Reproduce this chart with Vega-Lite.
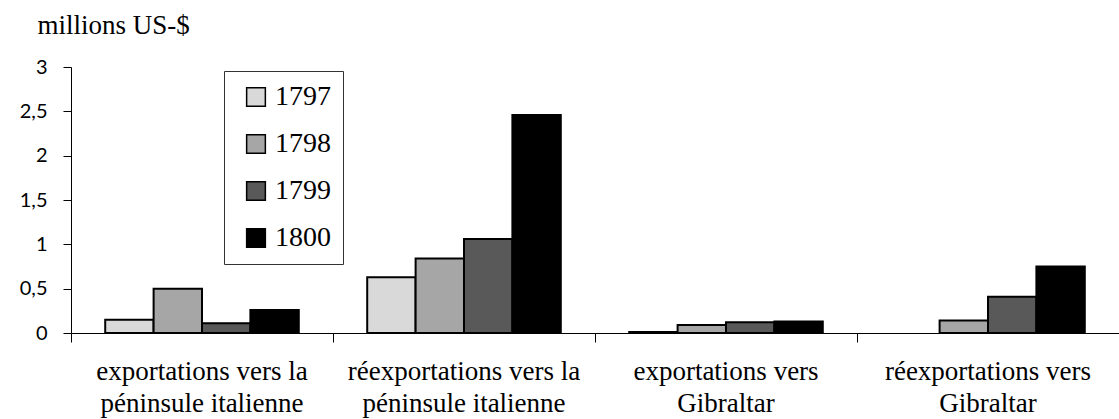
{
  "$schema": "https://vega.github.io/schema/vega-lite/v6.json",
  "width": 1048,
  "height": 266,
  "autosize": {"type": "none"},
  "padding": {"left": 71, "top": 67, "right": 0, "bottom": 86},
  "background": "white",
  "config": {"view": {"stroke": null}},
  "data": {
    "values": [
      {"flux": "exportations vers la péninsule italienne", "annee": "1797", "valeur": 0.15},
      {"flux": "exportations vers la péninsule italienne", "annee": "1798", "valeur": 0.50},
      {"flux": "exportations vers la péninsule italienne", "annee": "1799", "valeur": 0.11},
      {"flux": "exportations vers la péninsule italienne", "annee": "1800", "valeur": 0.26},
      {"flux": "réexportations vers la péninsule italienne", "annee": "1797", "valeur": 0.63},
      {"flux": "réexportations vers la péninsule italienne", "annee": "1798", "valeur": 0.84},
      {"flux": "réexportations vers la péninsule italienne", "annee": "1799", "valeur": 1.06},
      {"flux": "réexportations vers la péninsule italienne", "annee": "1800", "valeur": 2.46},
      {"flux": "exportations vers Gibraltar", "annee": "1797", "valeur": 0.01},
      {"flux": "exportations vers Gibraltar", "annee": "1798", "valeur": 0.09},
      {"flux": "exportations vers Gibraltar", "annee": "1799", "valeur": 0.12},
      {"flux": "exportations vers Gibraltar", "annee": "1800", "valeur": 0.13},
      {"flux": "réexportations vers Gibraltar", "annee": "1798", "valeur": 0.14},
      {"flux": "réexportations vers Gibraltar", "annee": "1799", "valeur": 0.41},
      {"flux": "réexportations vers Gibraltar", "annee": "1800", "valeur": 0.75}
    ]
  },
  "mark": {"type": "bar", "stroke": "black", "strokeWidth": 2},
  "encoding": {
    "x": {
      "field": "flux",
      "type": "nominal",
      "sort": [
        "exportations vers la péninsule italienne",
        "réexportations vers la péninsule italienne",
        "exportations vers Gibraltar",
        "réexportations vers Gibraltar"
      ],
      "scale": {"paddingInner": 0, "paddingOuter": 0},
      "axis": {
        "title": null,
        "bandPosition": 0,
        "tickSize": 9,
        "tickColor": "black",
        "domainColor": "black",
        "labelAngle": 0,
        "labelFont": "Liberation Serif",
        "labelFontSize": 27,
        "labelColor": "black",
        "labelLineHeight": 32,
        "labelPadding": 16,
        "labelBaseline": "top",
        "labelLimit": 0,
        "labelOverlap": false,
        "labelFlush": false,
        "labelExpr": "split(replace(replace(datum.label, 'vers la ', 'vers la|'), 'vers Gibraltar', 'vers|Gibraltar'), '|')"
      }
    },
    "xOffset": {
      "field": "annee",
      "type": "nominal",
      "scale": {"paddingInner": 0, "paddingOuter": 0.707}
    },
    "y": {
      "field": "valeur",
      "type": "quantitative",
      "scale": {"domain": [0, 3]},
      "axis": {
        "title": "millions US-$",
        "titleAngle": 0,
        "titleX": -34,
        "titleY": -34,
        "titleAlign": "left",
        "titleBaseline": "alphabetic",
        "titleFont": "Liberation Serif",
        "titleFontSize": 27,
        "titleFontWeight": "normal",
        "titleColor": "black",
        "values": [0, 0.5, 1, 1.5, 2, 2.5, 3],
        "labelExpr": "replace(format(datum.value, '~g'), '.', ',')",
        "labelFont": "Lato",
        "labelFontSize": 20,
        "labelColor": "black",
        "labelPadding": 16,
        "tickSize": 8,
        "tickColor": "black",
        "domainColor": "black",
        "grid": false
      }
    },
    "color": {
      "field": "annee",
      "type": "nominal",
      "scale": {
        "domain": ["1797", "1798", "1799", "1800"],
        "range": ["#d9d9d9", "#a6a6a6", "#595959", "#000000"]
      },
      "legend": {
        "title": null,
        "orient": "none",
        "legendX": 153,
        "legendY": 4,
        "direction": "vertical",
        "symbolType": "square",
        "symbolSize": 350,
        "symbolStrokeColor": "black",
        "symbolStrokeWidth": 1.5,
        "symbolOpacity": 1,
        "symbolOffset": 6,
        "labelFont": "Liberation Serif",
        "labelFontSize": 28,
        "labelColor": "black",
        "labelOffset": 5,
        "rowPadding": 19,
        "padding": 12,
        "strokeColor": "#333333",
        "fillColor": "white"
      }
    }
  }
}
